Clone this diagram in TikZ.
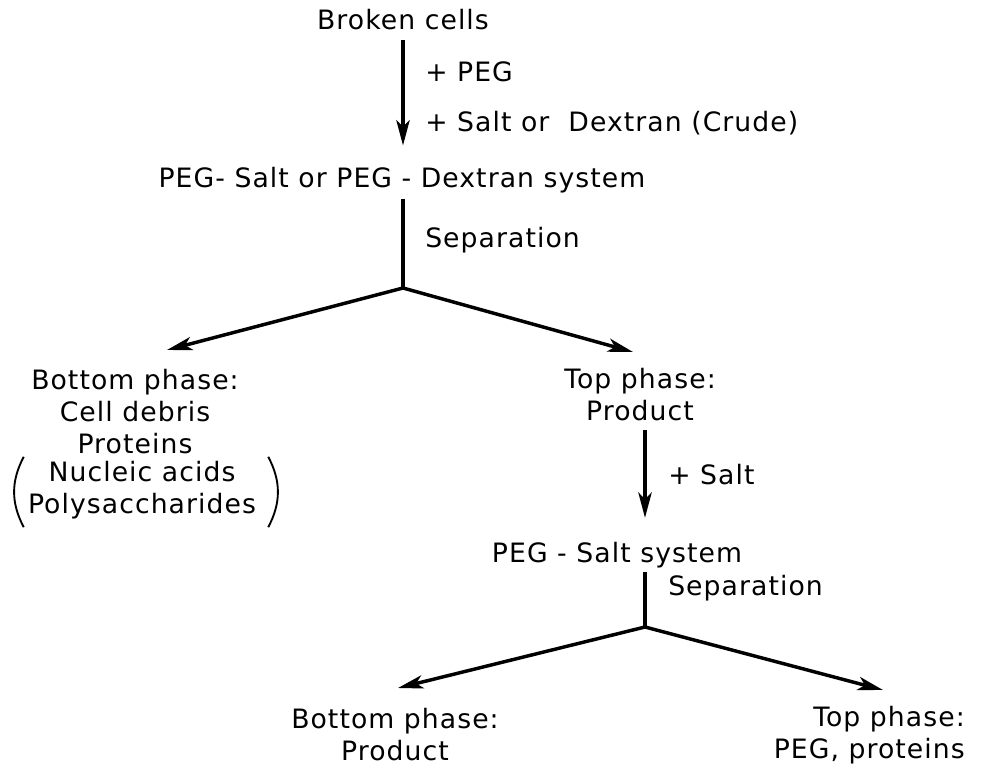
\documentclass[tikz,border=0pt]{standalone}
\usepackage{fontspec}
\setmainfont{DejaVu Sans}[LetterSpace=4]
\usetikzlibrary{arrows.meta,positioning}

\tikzset{
  lbl/.style={font=\fontsize{20}{24}\selectfont, inner sep=0pt},
  flow/.style={line width=2.6pt, -{Stealth[length=19pt,width=10pt,inset=5pt]}},
  stem/.style={line width=2.6pt},
  paren/.style={line width=1.4pt},
}

\begin{document}
\begin{tikzpicture}[x=0.75pt,y=-0.75pt]
    \useasboundingbox (0,0) rectangle (982,766);

    % First extraction
    \node[lbl] (cells) at (403,20) {Broken cells};
    \node[lbl] (sysA) at (402,180) {PEG- Salt or PEG - Dextran system};
    \draw[flow, shorten <=7pt, shorten >=16pt] (cells) -- (cells |- sysA.north);
    \node[lbl, anchor=west] (addpeg) at (425,72) {+ PEG};
    \node[lbl, anchor=west] (addsalt) at (425,123) {+ Salt or \ Dextran (Crude)};

    % Separation 1
    \coordinate (splitA) at (403,288);
    \coordinate (leftA) at (167,350);
    \coordinate (rightA) at (633,352);
    \draw[stem, shorten <=4pt] (sysA.south -| splitA) -- (splitA);
    \node[lbl, anchor=west] (sepA) at (425,240) {Separation};
    \draw[flow] (splitA) -- (leftA);
    \draw[flow] (splitA) -- (rightA);

    % Bottom phase 1
    \node[lbl, align=center] (botA) at (135,412) {Bottom phase:\\Cell debris\\Proteins};
    \node[lbl, align=center] (botB) at (142,490) {Nucleic acids\\Polysaccharides};
    \draw[paren] ([xshift=-3pt,yshift=3pt]botB.north west) to[bend right=28] ([xshift=-3pt,yshift=-6pt]botB.south west);
    \draw[paren] ([xshift=9pt,yshift=3pt]botB.north east) to[bend left=28] ([xshift=9pt,yshift=-6pt]botB.south east);

    % Top phase 1
    \node[lbl, align=center] (topA) at (640,395) {Top phase:\\Product};
    \coordinate (splitB) at (645,627);
    \node[lbl] (sysB) at (617,555) {PEG - Salt system};
    \draw[flow, shorten <=6pt, shorten >=18pt] (topA.south -| splitB) -- (sysB.north -| splitB);
    \node[lbl, anchor=west] (addsaltB) at (668,475) {+ Salt};

    % Separation 2
    \coordinate (leftB) at (398,688);
    \coordinate (rightB) at (883,690);
    \draw[stem, shorten <=3pt] (sysB.south -| splitB) -- (splitB);
    \node[lbl, anchor=west] (sepB) at (668,588) {Separation};
    \draw[flow] (splitB) -- (leftB);
    \draw[flow] (splitB) -- (rightB);

    % Final phases
    \node[lbl, align=center] (botC) at (395,735) {Bottom phase:\\Product};
    \node[lbl, align=right, anchor=east] (topC) at (965,735) {Top phase:\\PEG, proteins};
\end{tikzpicture}
\end{document}
